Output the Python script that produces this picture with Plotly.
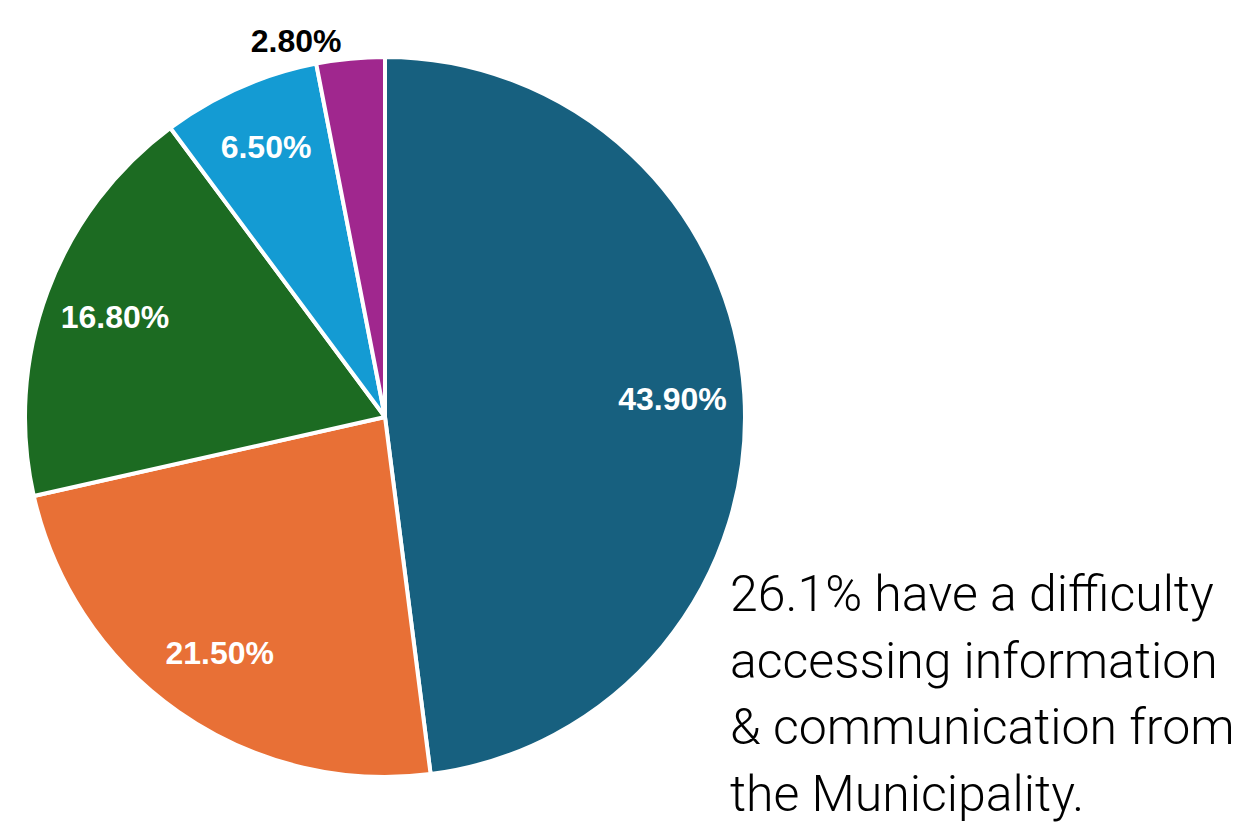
import plotly.graph_objects as go

categories = ["A", "B", "C", "D", "E"]
values = [43.9, 21.5, 16.8, 6.5, 2.8]
labels_text = ["43.90%", "21.50%", "16.80%", "6.50%", "2.80%"]
colors = ["#17607F", "#E87036", "#1C6B22", "#149BD3", "#A0278E"]
text_colors = ["white", "white", "white", "white", "black"]
text_positions = ["inside", "inside", "inside", "inside", "outside"]
note_lines = ["26.1% have a difficulty", "accessing information",
              "&amp; communication from", "the Municipality."]

W, H = 1249, 826
cx, cy, r = 385, 417, 360
dom = dict(x=[(cx - r) / W, (cx + r) / W], y=[1 - (cy + r) / H, 1 - (cy - r) / H])

# the coloured pie (no text)
fig = go.Figure(go.Pie(
    labels=categories, values=values, sort=False, direction="clockwise", rotation=0,
    marker=dict(colors=colors, line=dict(color="white", width=4)),
    textinfo="none", hoverinfo="skip", showlegend=False, domain=dom,
))
# transparent ring that carries the labels further out
fig.add_trace(go.Pie(
    labels=categories, values=values, text=labels_text, texttemplate="%{text}",
    textposition=text_positions, insidetextorientation="horizontal",
    sort=False, direction="clockwise", rotation=0, hole=0.6,
    marker=dict(colors=["rgba(0,0,0,0)"] * 5, line=dict(width=0)),
    textfont=dict(family="Liberation Sans, Arial, sans-serif", size=32,
                  color=text_colors, weight="bold"),
    hoverinfo="skip", showlegend=False, domain=dom,
))

baselines = [613, 680, 746, 813]
for line, b in zip(note_lines, baselines):
    fig.add_annotation(
        x=729 / W, y=1 - (b + 11) / H, xref="paper", yref="paper",
        xanchor="left", yanchor="bottom", align="left", showarrow=False,
        text=line, borderpad=0,
        font=dict(family="Roboto, sans-serif", size=50, color="black", weight=300),
    )

fig.update_layout(
    width=W, height=H,
    margin=dict(l=0, r=0, t=0, b=0),
    paper_bgcolor="white", plot_bgcolor="white",
)

fig.write_html("out.html")
